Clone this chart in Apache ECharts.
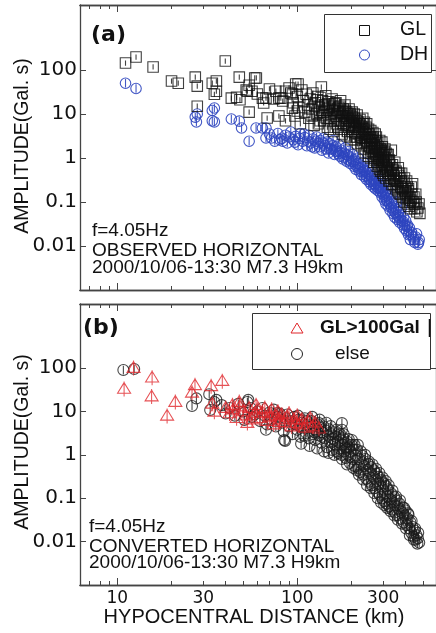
<!DOCTYPE html>
<html><head><meta charset="utf-8">
<script src="https://cdn.jsdelivr.net/npm/echarts@6/dist/echarts.min.js"></script>
<style>html,body{margin:0;padding:0;background:#fff}#c{width:436px;height:633px}</style>
</head><body><div id="c"></div>
<script>
// Panel (a): observed horizontal, GL (squares) and DH (circles): [distance km, amplitude Gal·s]
const GL = [[11.1,144],[12.7,197],[15.8,117],[20,56],[21.8,50],[27.1,69],[27.8,43],[27.8,15],[33.7,50],[34.6,28],[35.5,33],[35.5,56],[39.8,160],[43,23],[46,24],[47.6,69],[48,21],[52,35],[52.8,33],[54,45],[54,11],[56,33],[58,66],[59.2,66],[60,28.5],[64,23],[65,17.8],[67,23],[68,8.1],[70,37],[74,22],[76,33],[79,23],[79,9],[81,23],[83,19.7],[86,33],[86,7],[90,39],[92,30],[94,28.5],[94,13.6],[95,18],[97,9],[98,48],[100,25],[100,11.7],[101,48],[102,14],[104,6],[106,35],[108,20],[110,11],[112,28],[114,16],[116,8],[118,22],[120,13],[121,9],[122,30],[124,5.5],[125,15],[126,18],[128,10],[129,21],[130,25],[131,6],[132,14],[133,11],[134,7],[136,41],[137,16],[138,20],[139,9.5],[140,11],[141,7],[142,16],[144,26],[145,12],[146,8],[147,5],[148,13],[149,17],[150,19],[151,14],[152,4.5],[153,8],[154,10],[156,22],[157,12],[158,15],[159,4],[160,7],[161,17],[162,12],[163,9],[164,18],[165,6],[166,9],[167,13],[168,5],[169,10],[170,14],[171,7],[172,11],[173,15],[174,20],[175,4.5],[176,7],[177,9],[178,3.5],[179,11],[180,13],[181,6],[182,9],[183,3.2],[184,16],[185,12],[186,6],[187,7],[188,11],[189,8],[190,4],[191,10],[192,8],[193,5],[194,13],[195,5.5],[196,3],[197,10],[198,9],[199,2.6],[200,6.5],[201,4],[202,11],[203,8.5],[204,7],[205,4.5],[206,5.5],[207,10],[208,8],[209,3.8],[210,2.6],[211,5],[212,6],[213,7],[214,3],[215,9.5],[216,2.1],[217,6.5],[218,3.5],[219,4.5],[220,5],[221,4],[222,6],[223,7.5],[225,5.5],[226,2.2],[227,1.9],[228,3],[229,4],[230,5],[231,8],[232,6],[233,2.8],[234,4.5],[235,1.6],[236,6.5],[237,2.5],[238,3],[239,1.3],[240,3.5],[241,5],[242,4],[243,6],[244,2],[245,2.8],[246,2.4],[247,3.5],[248,1.1],[249,4.5],[250,1.3],[251,3.5],[252,1.8],[253,2.6],[254,2.1],[255,3],[256,4.2],[257,1],[258,2.2],[259,1.7],[260,2.5],[261,1.4],[262,2.8],[263,3.8],[264,3],[265,1.1],[266,0.8],[267,1.7],[268,2],[269,1.9],[270,0.9],[271,3.5],[272,1.2],[273,2.5],[274,1.4],[275,3],[276,1.6],[277,0.8],[278,0.65],[279,1],[280,2.2],[281,1.8],[282,0.7],[283,1.2],[284,1],[285,1.5],[286,0.55],[287,2.5],[288,0.9],[289,1.6],[290,0.5],[291,1.3],[292,0.9],[293,1.5],[294,0.6],[295,2.3],[296,0.8],[297,1.8],[298,0.45],[299,1.2],[300,0.8],[301,1.1],[302,0.4],[303,1.3],[304,0.7],[305,1.4],[306,0.5],[307,1.6],[309,1],[310,0.35],[311,0.6],[312,0.65],[313,0.9],[315,1.2],[316,0.5],[318,0.4],[319,0.55],[320,1.2],[322,0.85],[323,0.3],[325,0.9],[326,0.7],[328,0.3],[330,0.45],[331,0.35],[333,1.5],[335,0.6],[336,0.25],[338,0.7],[340,0.55],[342,0.4],[344,0.33],[345,0.25],[348,0.8],[350,0.3],[352,0.2],[354,0.5],[356,0.45],[358,0.22],[360,0.3],[362,0.18],[364,0.6],[366,0.4],[368,0.16],[370,0.45],[372,0.35],[374,0.15],[376,0.22],[378,0.3],[380,0.45],[382,0.2],[385,0.13],[386,0.2],[390,0.28],[392,0.1],[394,0.35],[395,0.18],[398,0.22],[400,0.12],[402,0.16],[405,0.3],[408,0.14],[410,0.09],[412,0.18],[415,0.2],[418,0.08],[420,0.13],[422,0.1],[425,0.07],[428,0.11],[430,0.22],[434,0.15],[437,0.26],[440,0.1],[445,0.13],[448,0.07],[450,0.09],[455,0.15],[458,0.1],[462,0.06],[468,0.073],[475,0.09],[480,0.055]];
const DH = [[11.1,50],[12.7,38],[27.1,8.5],[27.5,6.6],[27.8,10],[33.7,12],[33.7,7],[34.6,6.6],[34.6,13.7],[43,7.7],[47.6,6.9],[49,4.8],[54,2.4],[59,4.8],[64,4.8],[67,4.8],[67,2.85],[70,3.5],[72,2.85],[75,2.4],[78,3.6],[80,2.6],[82,2.8],[83,2.4],[86,3.3],[88,2.2],[90,3],[92,3.9],[95,2.6],[97,2.3],[98,3.1],[101,2],[103,2.8],[104,3.6],[107,2.4],[109,3.5],[110,2.9],[113,1.9],[115,2.4],[116,3.3],[119,2.2],[121,1.8],[122,2.7],[125,1.7],[127,2.4],[128,3],[131,2.1],[133,1.8],[134,2.5],[137,1.5],[139,2.2],[140,2.8],[143,1.9],[145,1.6],[146,2.3],[149,1.3],[151,1.6],[152,2.1],[155,1.6],[157,1.9],[158,2.5],[161,1.2],[163,1.45],[164,1.8],[167,1.4],[169,1.25],[170,2],[173,1.1],[175,1.3],[176,1.5],[179,0.95],[181,1.05],[182,1.3],[185,1.7],[187,1.2],[188,0.85],[191,1.15],[193,0.9],[194,1.4],[197,0.75],[199,0.85],[200,1],[203,1.2],[205,0.85],[206,0.65],[209,0.9],[211,0.7],[212,0.55],[215,0.75],[217,0.6],[218,1],[221,0.5],[223,0.58],[224,0.7],[227,0.42],[229,0.48],[230,0.6],[233,0.8],[235,0.5],[236,0.38],[239,0.52],[241,0.4],[242,0.33],[245,0.45],[247,0.37],[248,0.6],[251,0.29],[253,0.32],[254,0.4],[257,0.25],[259,0.3],[260,0.35],[263,0.48],[265,0.26],[266,0.22],[269,0.3],[271,0.25],[272,0.2],[275,0.27],[277,0.22],[278,0.36],[281,0.18],[283,0.21],[284,0.25],[287,0.3],[289,0.2],[290,0.16],[293,0.22],[295,0.17],[296,0.13],[299,0.19],[301,0.15],[302,0.26],[305,0.11],[307,0.13],[308,0.16],[311,0.09],[313,0.11],[314,0.14],[317,0.2],[319,0.1],[320,0.08],[324,0.12],[326,0.09],[328,0.065],[332,0.1],[334,0.075],[336,0.15],[340,0.055],[342,0.065],[344,0.08],[348,0.045],[350,0.058],[352,0.07],[356,0.1],[358,0.05],[360,0.04],[365,0.06],[367,0.045],[370,0.035],[375,0.05],[377,0.038],[380,0.075],[385,0.03],[387,0.036],[390,0.045],[395,0.025],[397,0.03],[400,0.038],[405,0.022],[407,0.028],[410,0.03],[415,0.018],[417,0.022],[420,0.026],[425,0.014],[428,0.018],[432,0.02],[440,0.016],[445,0.014],[450,0.012],[455,0.016],[460,0.019],[468,0.011],[472,0.012],[476,0.014]];
// Panel (b): converted horizontal, GL>100Gal (triangles) and else (circles)
const GL100 = [[10.9,33],[12.3,100],[15.6,60],[15.5,22],[18.9,7.9],[21,16.5],[26,27],[27,40],[33.2,38],[33.7,15],[34.6,9.8],[38.3,50],[40,12],[42,9],[43.6,14],[44,11],[46,7],[47.6,16.5],[48,13],[50,10],[52,8],[52.8,5.4],[54,12],[56,6.5],[58,9],[59,14],[60,11],[62,7],[64,9.5],[66,12],[68,6],[69.9,7.5],[70,9],[72,11],[74,5],[76,8],[78,10],[79.4,5.7],[80,6.5],[82,8.5],[85,5.5],[88,7.5],[90,9],[93,4.5],[96,6.5],[98.7,5.4],[100,8],[103,5],[106,6.5],[110,4.2],[114,5.8],[118,7],[122,4.5],[126,5.5],[132,4]];
const ELSE = [[10.8,90],[12.4,95],[26,13.4],[27.5,20],[32.4,25],[32.8,10.8],[34.6,16.5],[35.5,18.5],[38,14],[40,9],[42,12],[45,8],[47,15],[50,10],[50.8,6.4],[52.8,16.5],[53.4,18.5],[55,12],[56,7.5],[58,8.5],[60,10],[62,6],[64,12],[66,8],[67,3.8],[68,5],[70,9.5],[72,6.5],[74,11],[76,4.5],[77.4,9.2],[78,7.5],[80,9],[82,5.5],[84,3.5],[84.5,2.2],[85.6,2.1],[86,7],[88,8.5],[90,4.5],[92,6],[94,3],[96,7.5],[98,5],[100,3.8],[101,8],[102,6.5],[104,2.6],[105,1.8],[106,5.5],[108,4.2],[109,2.8],[110,7],[112,3.2],[113,6],[114,5],[116,2.4],[117,1.6],[118,4.3],[120,6],[121,7.5],[122,3],[124,4.8],[125,3.3],[126,2.2],[128,3.6],[129,1.4],[130,5],[132,2.8],[132,5.4],[133,6.5],[134,4.2],[136,1.9],[137,2.6],[138,3.3],[140,4.5],[141,1.2],[142,2.4],[144,3.6],[145,5.5],[146,1.5],[148,2.8],[149,1.1],[150,3.9],[152,2],[153,4.6],[154,3],[156,1.3],[157,2],[158,2.4],[160,3.3],[161,1],[162,1.7],[164,2.6],[165,3.8],[166,1.2],[168,2],[169,1.1],[170,2.8],[172,1.4],[173,3],[174,2.2],[176,1],[177,5.4],[177,3.8],[177,0.8],[178,1.7],[180,2.4],[181,3],[182,1.2],[184,1.9],[185,1.5],[186,0.85],[188,1.4],[189,0.6],[190,2],[192,1],[193,2.3],[194,1.5],[196,0.65],[197,0.9],[198,1.2],[200,1.7],[201,2.2],[203,0.8],[205,0.5],[206,1.3],[208,1.7],[209,0.55],[212,0.95],[213,0.45],[215,1.3],[217,1.7],[218,0.5],[220,0.35],[221,0.8],[224,0.4],[226,1.2],[227,0.65],[230,0.95],[232,0.27],[233,0.35],[236,0.55],[238,1],[239,0.8],[242,0.28],[244,0.2],[245,0.45],[248,0.62],[250,0.7],[251,0.24],[254,0.38],[256,0.17],[257,0.52],[260,0.2],[262,0.6],[263,0.32],[266,0.44],[268,0.13],[269,0.17],[272,0.27],[274,0.48],[275,0.37],[278,0.14],[280,0.1],[281,0.22],[284,0.31],[286,0.38],[287,0.12],[290,0.19],[292,0.08],[293,0.26],[296,0.1],[298,0.3],[299,0.16],[302,0.22],[304,0.07],[305,0.085],[308,0.13],[310,0.25],[311,0.19],[314,0.075],[316,0.06],[317,0.11],[320,0.16],[322,0.2],[324,0.065],[328,0.095],[330,0.05],[332,0.13],[336,0.055],[338,0.15],[340,0.08],[344,0.11],[346,0.04],[348,0.047],[352,0.068],[354,0.11],[356,0.09],[360,0.04],[362,0.032],[365,0.058],[370,0.075],[372,0.09],[375,0.034],[380,0.048],[382,0.026],[385,0.062],[390,0.028],[392,0.06],[395,0.04],[400,0.052],[402,0.02],[405,0.024],[410,0.034],[412,0.045],[415,0.042],[420,0.02],[422,0.014],[425,0.028],[430,0.016],[432,0.03],[436,0.022],[442,0.013],[445,0.011],[448,0.018],[452,0.02],[455,0.011],[460,0.014],[465,0.009],[468,0.012],[470,0.016],[476,0.0095]];

const xMajorTicks = [10, 100];
const xMinorTicks = [7, 8, 9, 20, 30, 40, 50, 60, 70, 80, 90, 200, 300, 400, 500];
const xTickLabels = [10, 30, 100, 300];
const yTickValues = [0.01, 0.1, 1, 10, 100];
const XMIN = 6.2, XMAX = 590, YMIN = 0.001, YMAX = 3000;

const AX = '#444';
const SQ = 'path://M0,0H10V10H0Z M5,2.5V7.5';
const CI = 'path://M10,5A5,5,0,1,1,0,5A5,5,0,1,1,10,5Z M5,1V9';
const TRI = 'path://M6,1L12,11H0Z M6,0V14';

function fmt(v){ return v >= 1 ? String(Math.round(v)) : String(+v.toPrecision(1)); }

function xAx(grid, pos, ticks, len, labels) {
  return {
    type: 'log', logBase: 10, gridIndex: grid, position: pos, min: XMIN, max: XMAX,
    axisLine: { show: true, onZero: false, lineStyle: { color: AX, width: 1.3 } },
    axisTick: { show: true, inside: true, length: len, customValues: ticks, lineStyle: { color: AX, width: 1 } },
    axisLabel: labels ? { show: true, customValues: labels, margin: 5, formatter: fmt,
      fontFamily: 'DejaVu Sans', fontSize: 17, color: '#111' } : { show: false },
    splitLine: { show: false }, minorTick: { show: false }
  };
}
function yAx(grid, pos, labels) {
  return {
    type: 'log', logBase: 10, gridIndex: grid, position: pos, min: YMIN, max: YMAX,
    axisLine: { show: true, onZero: false, lineStyle: { color: AX, width: 1.3 } },
    axisTick: { show: true, inside: true, length: 6, customValues: yTickValues, lineStyle: { color: AX, width: 1 } },
    axisLabel: labels ? { show: true, customValues: yTickValues, margin: 3, formatter: fmt,
      fontFamily: 'DejaVu Sans', fontSize: 20, color: '#111' } : { show: false },
    splitLine: { show: false }
  };
}

const chart = echarts.init(document.getElementById('c'), null, { renderer: 'canvas' });
const txt = (x, y, s, o) => Object.assign({ type: 'text', x: x, y: y, z: 50,
  style: Object.assign({ text: s, fill: '#111', font: '19px "Liberation Sans"', textVerticalAlign: 'middle' }, o || {}) });

chart.setOption({
  animation: false,
  backgroundColor: '#fff',
  grid: [
    { left: 80, top: 5, width: 356, height: 285 },
    { left: 80, top: 304, width: 356, height: 281 }
  ],
  xAxis: [
    xAx(0, 'bottom', xMajorTicks, 7), xAx(0, 'bottom', xMinorTicks, 4),
    xAx(0, 'top', xMajorTicks, 7), xAx(0, 'top', xMinorTicks, 4),
    xAx(1, 'bottom', xMajorTicks, 7, xTickLabels), xAx(1, 'bottom', xMinorTicks, 4),
    xAx(1, 'top', xMajorTicks, 7), xAx(1, 'top', xMinorTicks, 4)
  ],
  yAxis: [ yAx(0, 'left', true), yAx(0, 'right', false), yAx(1, 'left', true), yAx(1, 'right', false) ],
  series: [
    { type: 'scatter', xAxisIndex: 0, yAxisIndex: 0, data: DH, symbol: CI, symbolSize: 10.5, z: 2,
      itemStyle: { color: 'transparent', borderColor: '#2d45bf', borderWidth: 1.1, opacity: 0.9 }, emphasis: { disabled: true } },
    { type: 'scatter', xAxisIndex: 0, yAxisIndex: 0, data: GL, symbol: SQ, symbolSize: 10.5, z: 3,
      itemStyle: { color: 'transparent', borderColor: '#111', borderWidth: 1.1 }, emphasis: { disabled: true } },
    { type: 'scatter', xAxisIndex: 4, yAxisIndex: 2, data: ELSE, symbol: CI, symbolSize: 11, z: 2,
      itemStyle: { color: 'transparent', borderColor: '#1a1a1a', borderWidth: 1.1 }, emphasis: { disabled: true } },
    { type: 'scatter', xAxisIndex: 4, yAxisIndex: 2, data: GL100, symbol: TRI, symbolSize: [13, 15], z: 3,
      itemStyle: { color: 'transparent', borderColor: '#e0262a', borderWidth: 1.1 }, emphasis: { disabled: true } }
  ],
  graphic: [
    txt(91, 35, '(a)', { font: 'bold 22px "DejaVu Sans"' }),
    txt(83, 328, '(b)', { font: 'bold 22px "DejaVu Sans"' }),
    txt(92, 231, 'f=4.05Hz'), txt(92, 251, 'OBSERVED HORIZONTAL'), txt(92, 268, '2000/10/06-13:30 M7.3 H9km'),
    txt(89, 527, 'f=4.05Hz'), txt(89, 547, 'CONVERTED HORIZONTAL'), txt(89, 563, '2000/10/06-13:30 M7.3 H9km'),
    { type: 'text', x: 23, y: 146, rotation: Math.PI / 2, z: 50,
      style: { text: 'AMPLITUDE(Gal. s)', fill: '#111', font: '19.5px "Liberation Sans"', textAlign: 'center', textVerticalAlign: 'middle' } },
    { type: 'text', x: 23, y: 442, rotation: Math.PI / 2, z: 50,
      style: { text: 'AMPLITUDE(Gal. s)', fill: '#111', font: '19.5px "Liberation Sans"', textAlign: 'center', textVerticalAlign: 'middle' } },
    { type: 'text', x: 254, y: 617, z: 50,
      style: { text: 'HYPOCENTRAL DISTANCE (km)', fill: '#111', font: '20px "Liberation Sans"', textAlign: 'center', textVerticalAlign: 'middle' } },
    // legend (a)
    { type: 'rect', z: 60, shape: { x: 324.5, y: 14.5, width: 107, height: 58 }, style: { fill: '#fff', stroke: '#333', lineWidth: 1 } },
    { type: 'rect', z: 61, shape: { x: 359.5, y: 25.5, width: 10, height: 10 }, style: { fill: 'none', stroke: '#111', lineWidth: 1 } },
    { type: 'circle', z: 61, shape: { cx: 364.5, cy: 55, r: 5 }, style: { fill: 'none', stroke: '#2d45bf', lineWidth: 1 } },
    Object.assign(txt(400, 30, 'GL', { font: '19.5px "Liberation Sans"' }), { z: 62 }),
    Object.assign(txt(400, 55, 'DH', { font: '19.5px "Liberation Sans"' }), { z: 62 }),
    // legend (b)
    { type: 'rect', z: 60, shape: { x: 252.5, y: 313.5, width: 178, height: 56 }, style: { fill: '#fff', stroke: '#333', lineWidth: 1 } },
    { type: 'polygon', z: 61, shape: { points: [[297, 323], [303, 333], [291, 333]] }, style: { fill: 'none', stroke: '#e0262a', lineWidth: 1 } },
    { type: 'circle', z: 61, shape: { cx: 297, cy: 354, r: 5.5 }, style: { fill: 'none', stroke: '#222', lineWidth: 1 } },
    Object.assign(txt(320, 328, 'GL>100Gal', { font: 'bold 19px "Liberation Sans"' }), { z: 62 }),
    Object.assign(txt(335, 354, 'else', { font: '19px "Liberation Sans"' }), { z: 62 }),
    { type: 'line', z: 62, shape: { x1: 429.5, y1: 319, x2: 429.5, y2: 337 }, style: { stroke: '#111', lineWidth: 1.5 } }
  ]
});
</script></body></html>
